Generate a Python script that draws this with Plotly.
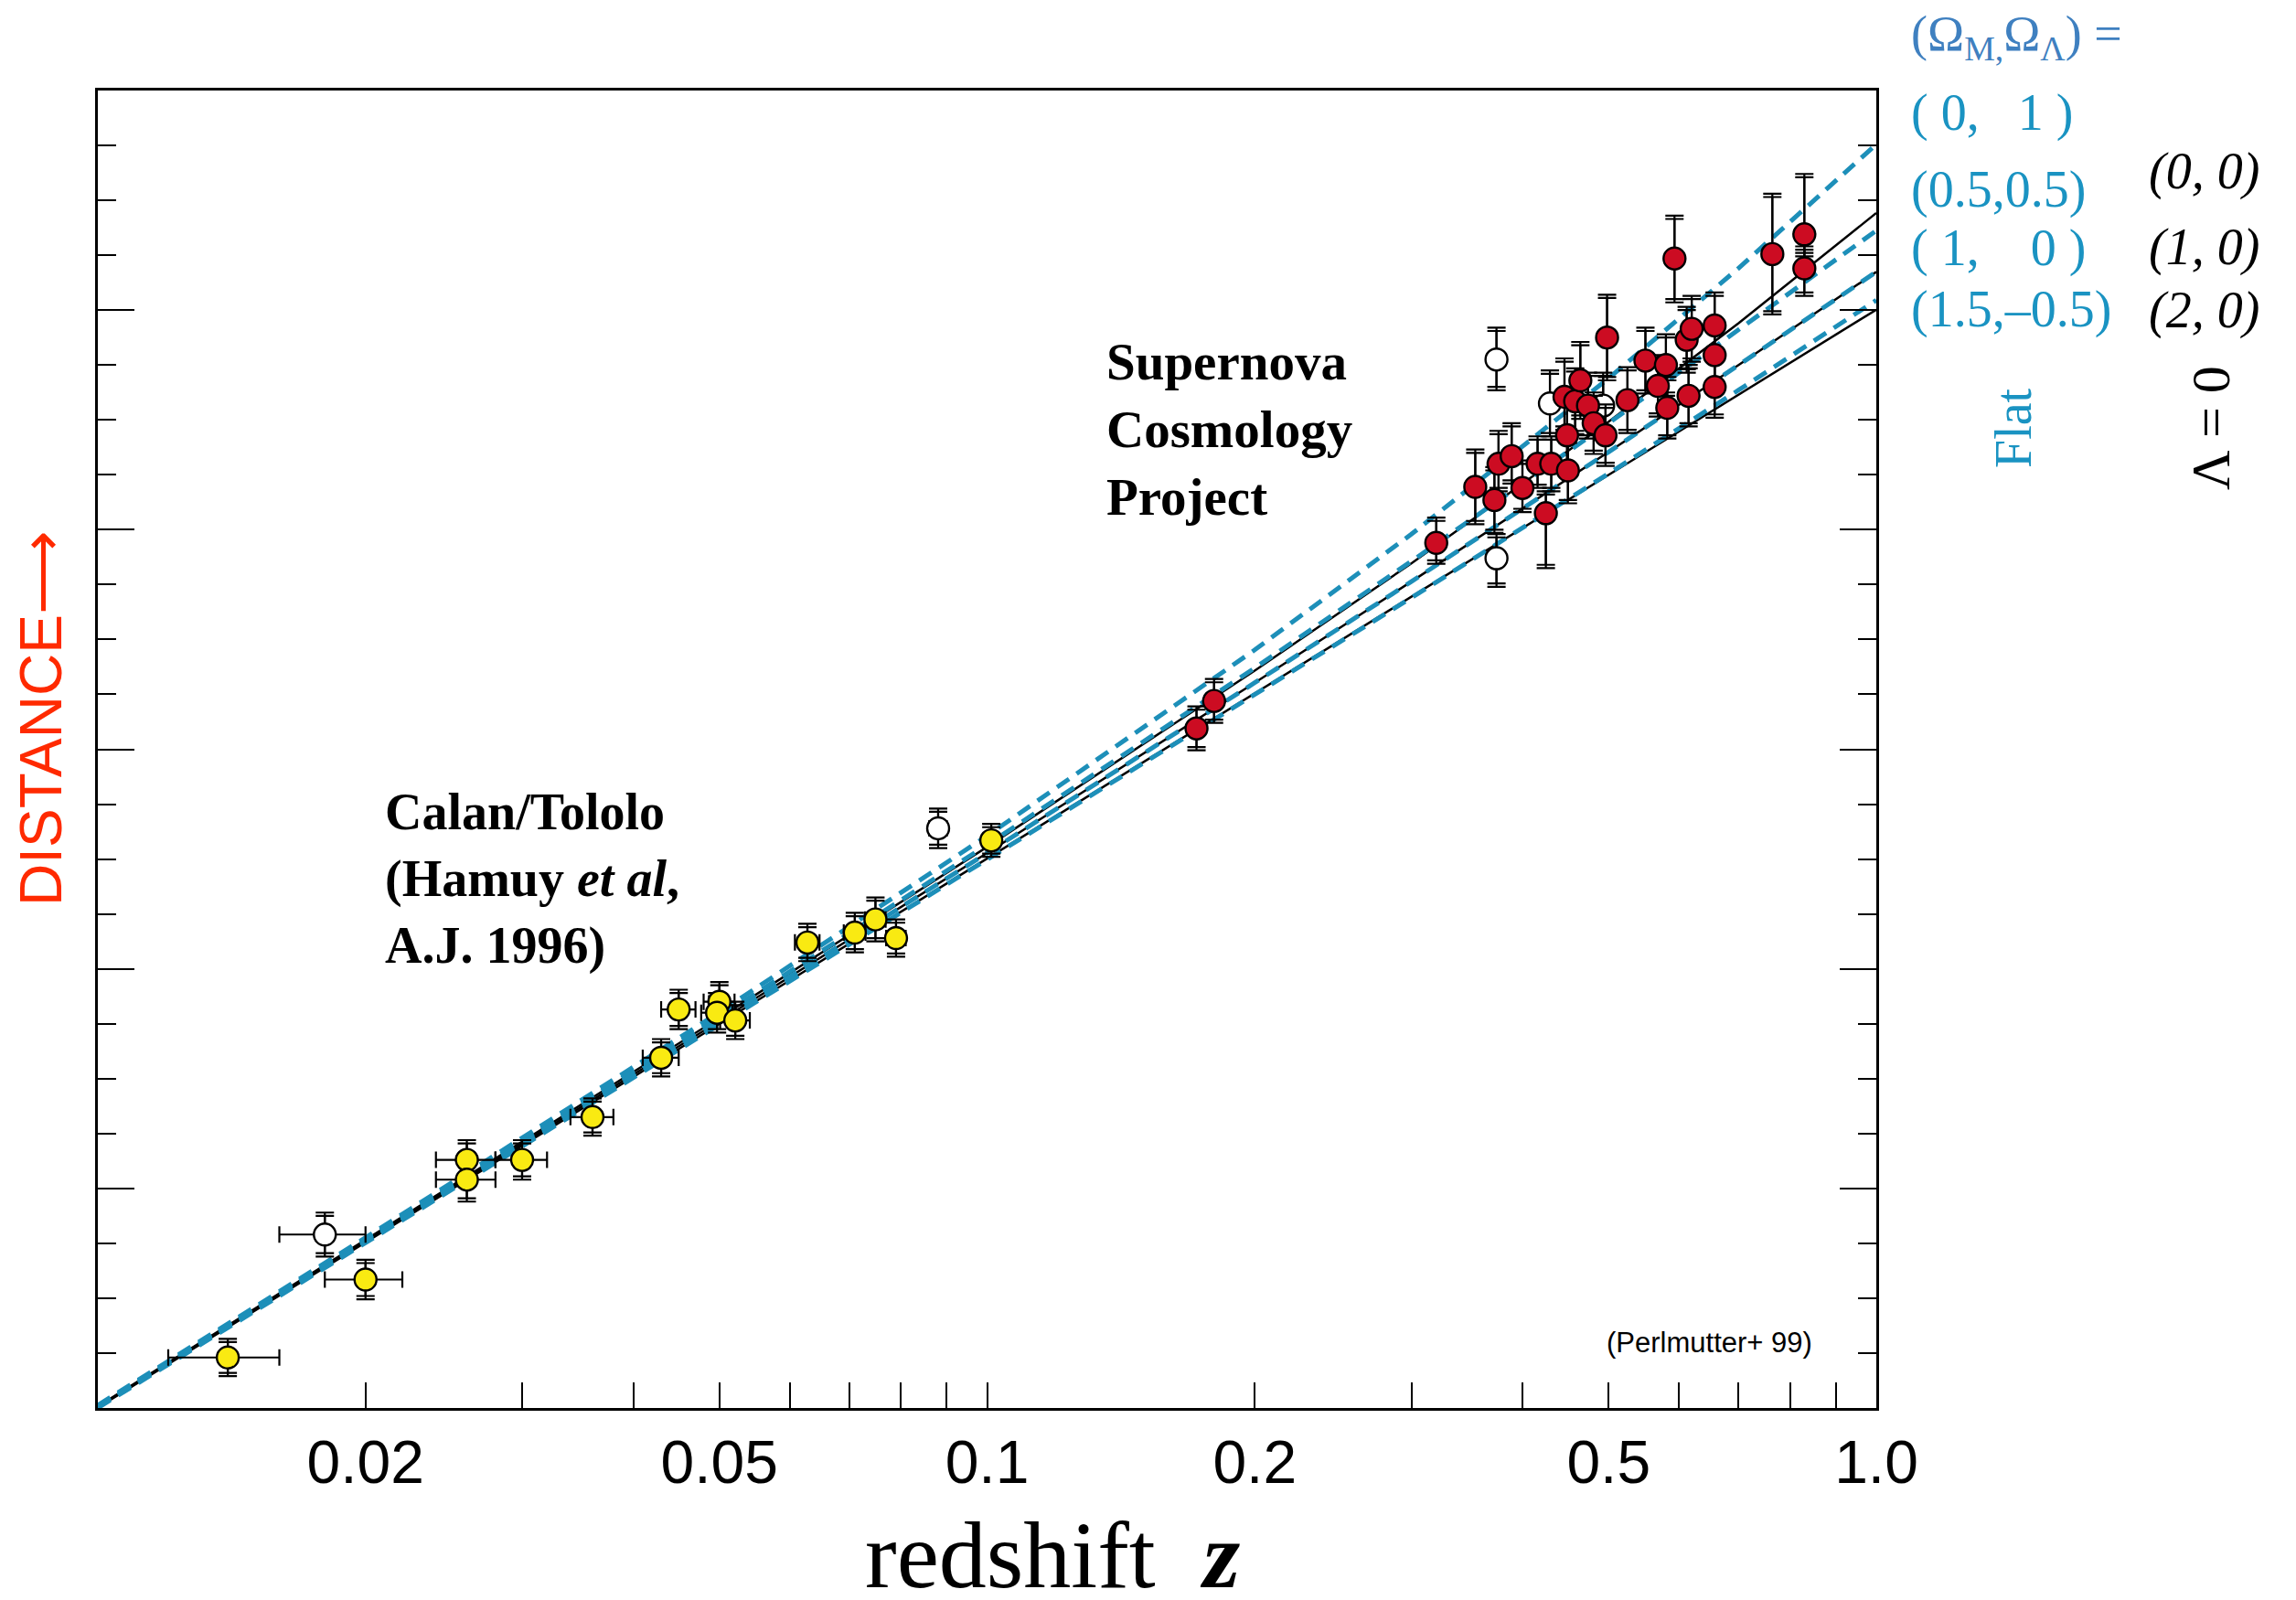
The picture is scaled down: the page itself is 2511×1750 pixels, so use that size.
import plotly.graph_objects as go

# ---------------- data ----------------
# model curves: effective magnitude vs redshift for several (Omega_M, Omega_Lambda)
z_model = [0.01, 0.02, 0.05, 0.1, 0.2, 0.3, 0.5, 0.7, 1.0]
m_flat_0_1 = [14.026, 15.552, 17.605, 19.211, 20.905, 21.959, 23.379, 24.382, 25.509]
m_flat_05_05 = [14.017, 15.536, 17.564, 19.129, 20.740, 21.712, 22.970, 23.816, 24.724]
m_flat_1_0 = [14.009, 15.520, 17.525, 19.055, 20.606, 21.527, 22.708, 23.499, 24.348]
m_flat_15_m05 = [14.001, 15.504, 17.488, 18.988, 20.492, 21.379, 22.511, 23.271, 24.090]
m_open_0_0 = [14.015, 15.531, 17.553, 19.110, 20.716, 21.693, 22.983, 23.881, 24.884]
m_open_1_0 = [14.009, 15.520, 17.525, 19.055, 20.606, 21.527, 22.708, 23.499, 24.348]
m_open_2_0 = [14.004, 15.509, 17.499, 19.004, 20.509, 21.390, 22.499, 23.230, 24.004]

# Calan/Tololo supernovae (yellow)
z_ct = [0.0140, 0.0200, 0.0260, 0.0260, 0.0300, 0.0360, 0.0430, 0.0450, 0.0500,
        0.0497, 0.0521, 0.0628, 0.0710, 0.0749, 0.0790, 0.1011]
m_ct = [14.46, 15.17, 16.26, 16.08, 16.26, 16.65, 17.19, 17.63, 17.70,
        17.60, 17.53, 18.24, 18.33, 18.45, 18.28, 19.17]
dm_ct = [0.17, 0.18, 0.18, 0.20, 0.18, 0.17, 0.17, 0.18, 0.18,
         0.18, 0.17, 0.17, 0.18, 0.20, 0.17, 0.15]
dz_ct = [0.002] * 16

# excluded supernovae (open circles)
z_open = [0.0180, 0.0881, 0.374, 0.374, 0.4295, 0.493]
m_open = [15.58, 19.28, 23.55, 21.74, 23.15, 23.13]
dm_open_up = [0.20, 0.18, 0.29, 0.22, 0.30, 0.30]
dm_open_dn = [0.20, 0.18, 0.28, 0.26, 0.30, 0.30]
dz_open = [0.002, 0.002, 0, 0, 0, 0]

# Supernova Cosmology Project (red)
z_scp = [0.172, 0.180, 0.320, 0.354, 0.372, 0.376, 0.389, 0.400, 0.416, 0.431,
         0.425, 0.450, 0.449, 0.446, 0.4585, 0.4647, 0.474, 0.481, 0.496, 0.498,
         0.525, 0.550, 0.568, 0.580, 0.582, 0.593, 0.612, 0.620, 0.615, 0.658,
         0.658, 0.658, 0.764, 0.830, 0.830]
m_scp = [20.19, 20.44, 21.88, 22.39, 22.27, 22.60, 22.67, 22.38, 22.60, 22.60,
         22.15, 22.54, 22.86, 23.21, 23.17, 23.36, 23.13, 22.97, 22.86, 23.75,
         23.18, 23.54, 23.31, 23.50, 23.11, 24.47, 23.73, 23.83, 23.22, 23.86,
         23.59, 23.30, 24.51, 24.69, 24.38]
dm_scp_up = [0.20, 0.20, 0.23, 0.34, 0.30, 0.30, 0.30, 0.25, 0.25, 0.25,
             0.20, 0.28, 0.30, 0.35, 0.30, 0.35, 0.30, 0.28, 0.28, 0.39,
             0.30, 0.30, 0.28, 0.28, 0.28, 0.39, 0.30, 0.30, 0.28, 0.30,
             0.28, 0.28, 0.55, 0.55, 0.20]
dm_scp_dn = [0.20, 0.20, 0.19, 0.34, 0.30, 0.25, 0.25, 0.22, 0.22, 0.25,
             0.50, 0.30, 0.30, 0.30, 0.30, 0.35, 0.30, 0.28, 0.28, 0.39,
             0.30, 0.30, 0.28, 0.28, 0.28, 0.40, 0.30, 0.30, 0.28, 0.30,
             0.28, 0.28, 0.55, 0.20, 0.25]

x_major_vals = [0.02, 0.05, 0.1, 0.2, 0.5, 1.0]
x_major_text = ["0.02", "0.05", "0.1", "0.2", "0.5", "1.0"]
x_minor_vals = [0.03, 0.04, 0.06, 0.07, 0.08, 0.09,
                0.3, 0.4, 0.6, 0.7, 0.8, 0.9]

# ---------------- style ----------------
CYAN = "#1d8fb9"
CYAN_TXT = "#1a93c2"
HEAD_TXT = "#3f80c0"
RED = "#cc0c22"
YELLOW = "#f9ea12"
SERIF = "Liberation Serif, Times New Roman, serif"
SANS = "Liberation Sans, Arial, sans-serif"

# page body has an 8px margin; figure is sized to fit inside the window
BODY = 8
FIG_W, FIG_H = 2511 - 2 * BODY, 1750 - 2 * BODY
# plot area in page pixels
PX_L, PX_R, PX_T, PX_B = 107, 2052, 99, 1540


def px(xp):
    return (xp - PX_L) / (PX_R - PX_L)


def py(yp):
    return (PX_B - yp) / (PX_B - PX_T)


fig = go.Figure()

# solid (Lambda = 0) curves
for m in (m_open_0_0, m_open_1_0, m_open_2_0):
    fig.add_trace(go.Scatter(x=z_model, y=m, mode="lines",
                             line=dict(color="black", width=2.5),
                             hoverinfo="skip"))
# dashed (flat) curves
for m in (m_flat_0_1, m_flat_05_05, m_flat_1_0, m_flat_15_m05):
    fig.add_trace(go.Scatter(x=z_model, y=m, mode="lines",
                             line=dict(color=CYAN, width=5, dash="16px,10px"),
                             hoverinfo="skip"))

CAP_GAP = 0.03


def inner(vals):
    return [max(v - CAP_GAP, 0) for v in vals]


def add_points(z, m, up, dn, dz, fill):
    # inner cap (double-cap look)
    fig.add_trace(go.Scatter(
        x=z, y=m, mode="markers",
        marker=dict(size=1, color="rgba(0,0,0,0)"),
        error_y=dict(type="data", symmetric=False, array=inner(up),
                     arrayminus=inner(dn), color="black", thickness=2.2, width=10),
        hoverinfo="skip"))
    fig.add_trace(go.Scatter(
        x=z, y=m, mode="markers",
        marker=dict(size=24, color=fill, line=dict(color="black", width=2.4)),
        error_y=dict(type="data", symmetric=False, array=up, arrayminus=dn,
                     color="black", thickness=2.2, width=10),
        error_x=dict(type="data", array=dz, color="black", thickness=2.2, width=9),
        hoverinfo="skip"))


add_points(z_ct, m_ct, dm_ct, dm_ct, dz_ct, YELLOW)
add_points(z_open, m_open, dm_open_up, dm_open_dn, dz_open, "white")
add_points(z_scp, m_scp, dm_scp_up, dm_scp_dn, [0] * len(z_scp), RED)

fig.update_xaxes(
    type="log", range=[-2, 0],
    tickmode="array", tickvals=x_major_vals, ticktext=x_major_text,
    tickangle=0,
    ticks="inside", ticklen=28, tickwidth=2, tickcolor="black",
    minor=dict(tickmode="array", tickvals=x_minor_vals, ticks="inside",
               ticklen=28, tickwidth=2, tickcolor="black", showgrid=False),
    showline=True, linecolor="black", linewidth=2.5, mirror=True,
    showgrid=False, zeroline=False,
    tickfont=dict(family=SANS, size=66, color="black"),
    ticklabelstandoff=0,
)
fig.update_yaxes(
    range=[14, 26], tick0=14, dtick=2,
    ticks="inside", ticklen=40, tickwidth=2, tickcolor="black",
    minor=dict(dtick=0.5, tick0=14, ticks="inside", ticklen=20,
               tickwidth=2, tickcolor="black"),
    showticklabels=False,
    showline=True, linecolor="black", linewidth=2.5, mirror="ticks",
    showgrid=False, zeroline=False,
)

ann = []


def text(x, y, s, size, color="black", family=SERIF, xanchor="left",
         yanchor="middle", angle=0, align="left"):
    ann.append(dict(x=px(x), y=py(y), xref="paper", yref="paper", text=s,
                    showarrow=False, xanchor=xanchor, yanchor=yanchor,
                    textangle=angle, align=align,
                    font=dict(family=family, size=size, color=color)))


text(1208, 470, "<b>Supernova<br>Cosmology<br>Project</b>", 57)
text(419, 962, "<b>Calan/Tololo<br>(Hamuy <i>et al</i>,<br>A.J. 1996)</b>", 56)
text(1984, 1468, "(Perlmutter+ 99)", 31, family=SANS, xanchor="right")
text(1151, 1700, "redshift  <b><i>z</i></b>", 104, xanchor="center")
text(45, 786, "DISTANCE\u27f6", 64, color="#ff2a00", family=SANS,
     xanchor="center", angle=-90)

text(2088, 40, "(\u03a9<sub>M,</sub>\u03a9<sub>\u039b</sub>) =", 54, color=HEAD_TXT)
text(2088, 123, "( 0,   1 )", 56, color=CYAN_TXT)
text(2088, 207, "(0.5,0.5)", 56, color=CYAN_TXT)
text(2088, 272, "( 1,    0 )", 56, color=CYAN_TXT)
text(2088, 338, "(1.5,\u20130.5)", 56, color=CYAN_TXT)
text(2348, 187, "<i>(0, 0)</i>", 56)
text(2348, 270, "<i>(1, 0)</i>", 56)
text(2348, 339, "<i>(2, 0)</i>", 56)
text(2202, 468, "Flat", 56, color=CYAN_TXT, xanchor="center", angle=-90)
text(2418, 468, "\u039b = 0", 60, xanchor="center", angle=-90)

fig.update_layout(
    width=FIG_W, height=FIG_H,
    margin=dict(l=PX_L - BODY, r=FIG_W + BODY - PX_R, t=PX_T - BODY,
                b=FIG_H + BODY - PX_B, autoexpand=False),
    plot_bgcolor="white", paper_bgcolor="white",
    showlegend=False, annotations=ann,
)

fig.write_html("out.html")
